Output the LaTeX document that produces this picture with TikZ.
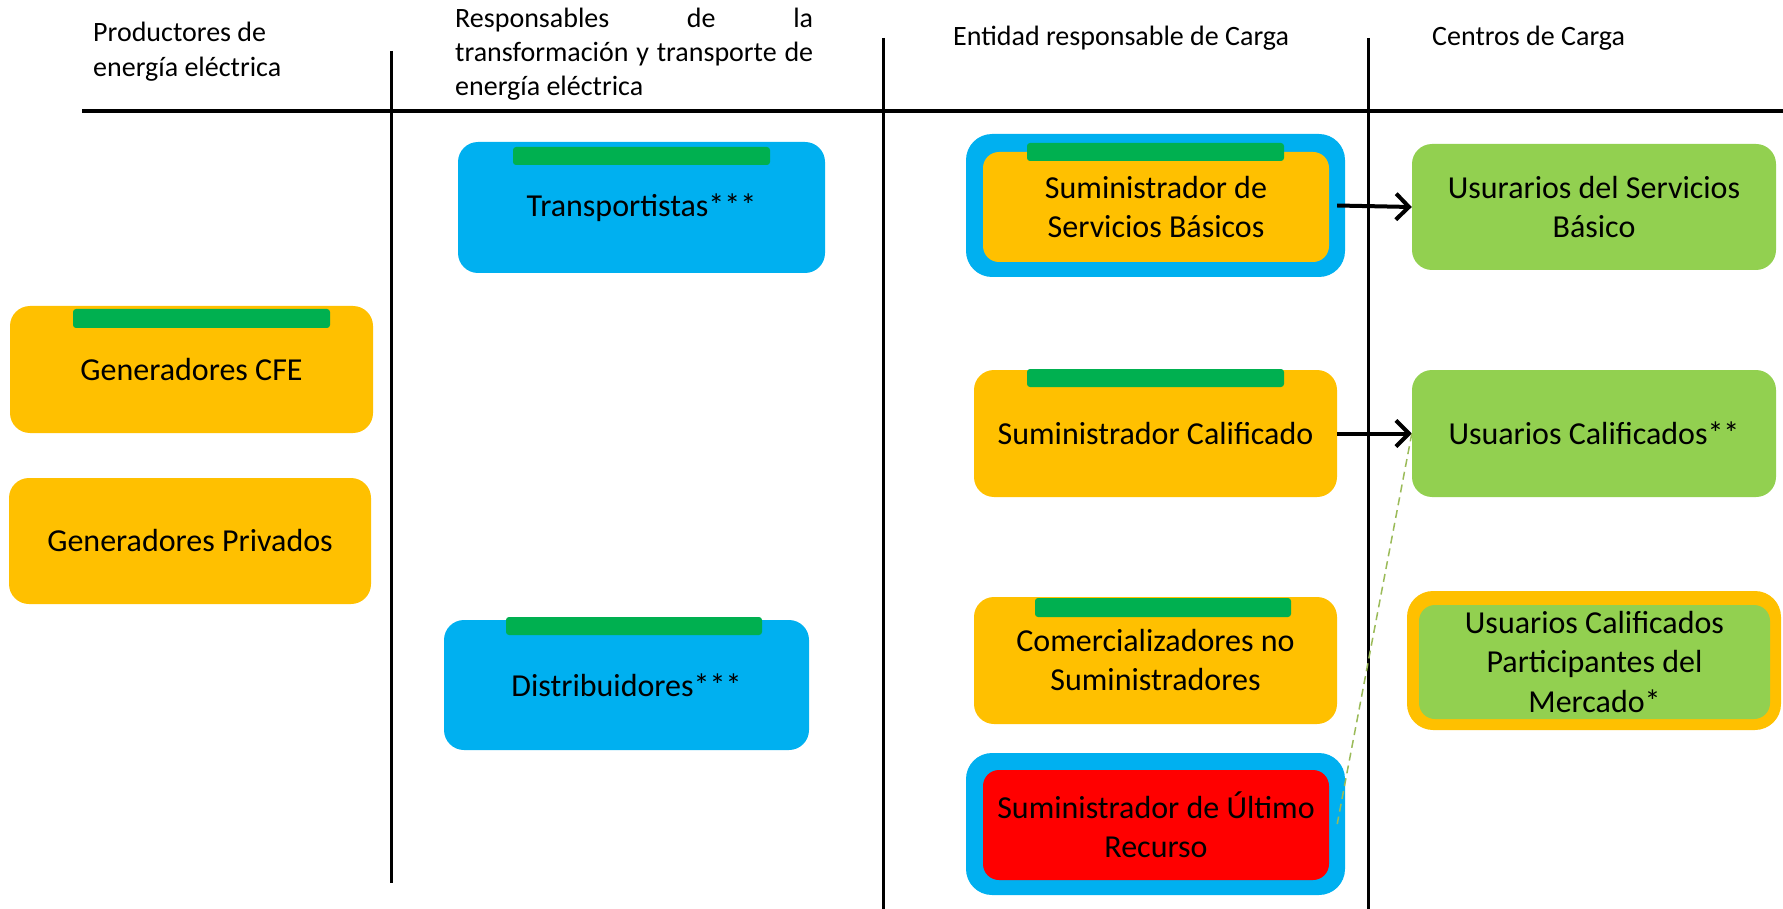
\documentclass[tikz,border=0pt]{standalone}
\usepackage{fontspec}
\setmainfont{Carlito}
\usetikzlibrary{arrows.meta}
\definecolor{cOrange}{HTML}{FFC000}
\definecolor{cBlue}{HTML}{00B0F0}
\definecolor{cBar}{HTML}{00B050}
\definecolor{cLight}{HTML}{92D050}
\definecolor{cRed}{HTML}{FF0000}
\definecolor{cDash}{HTML}{9BBB59}
\begin{document}
\begin{tikzpicture}[x=1pt,y=-1pt,
  gbox/.style={rounded corners=20pt, inner sep=0pt, align=center, font=\fontsize{32}{39}\selectfont, text=black},
  bar/.style={fill=cBar, rounded corners=3pt},
  hdr/.style={inner sep=0pt, align=left, anchor=west, font=\fontsize{28}{35}\selectfont},
  rulel/.style={line width=3.5pt, black},
  conn/.style={line width=4pt, -{Straight Barb[length=13pt,width=26pt,line width=4pt]}},
  dashconn/.style={cDash, line width=1.5pt, dash pattern=on 8pt off 5pt}]
\useasboundingbox (0,0) rectangle (1783,909);

% headers
\node[hdr] (h1) at (93,51.5) {Productores de\\energía eléctrica};
\node[hdr, font=\fontsize{28}{34}\selectfont] (h2) at (455,54) {\makebox[358pt][s]{Responsables de la}\\\makebox[358pt][s]{transformación y transporte de}\\energía eléctrica};
\node[hdr] (h3) at (953,38) {Entidad responsable de Carga};
\node[hdr] (h4) at (1432,38) {Centros de Carga};

% rules
\draw[rulel] (82,111) -- (1783,111);
\draw[line width=3pt] (391,51) -- (391,883);
\draw[line width=3pt] (883,38) -- (883,909);
\draw[line width=3pt] (1368,38) -- (1368,909);

% column 1
\node[gbox, fill=cOrange, minimum width=363pt, minimum height=127pt] (gcfe) at (191.5,369.5) {Generadores CFE};
\node[gbox, fill=cOrange, minimum width=362pt, minimum height=126pt] (gpriv) at (190,541) {Generadores Privados};

% column 2
\node[gbox, fill=cBlue, minimum width=367pt, minimum height=131pt] (trans) at (641.5,207.5) {Transportistas***};
\node[gbox, fill=cBlue, minimum width=365pt, minimum height=130pt] (dist) at (626.5,685) {Distribuidores***};

% column 3
\node[gbox, fill=cBlue, minimum width=379pt, minimum height=143pt, rounded corners=26pt] (ssb) at (1155.5,205.5) {};
\node[gbox, fill=cOrange, minimum width=346pt, minimum height=110pt, rounded corners=16pt] (ssbi) at (1156,207) {Suministrador de\\Servicios Básicos};
\node[gbox, fill=cOrange, minimum width=363pt, minimum height=127pt] (scal) at (1155.5,433.5) {Suministrador Calificado};
\node[gbox, fill=cOrange, minimum width=363pt, minimum height=127pt] (com) at (1155.5,660.5) {Comercializadores no\\Suministradores};
\node[gbox, fill=cBlue, minimum width=379pt, minimum height=142pt, rounded corners=26pt] (sur) at (1155.5,824) {};
\node[gbox, fill=cRed, minimum width=346pt, minimum height=110pt, rounded corners=16pt] (suri) at (1156,825) {Suministrador de Último\\Recurso};

% column 4
\node[gbox, fill=cLight, minimum width=364pt, minimum height=126pt] (usb) at (1594,207) {Usurarios del Servicios\\Básico};
\node[gbox, fill=cLight, minimum width=364pt, minimum height=127pt] (ucal) at (1594,433.5) {Usuarios Calificados**};
\node[gbox, fill=cOrange, minimum width=374pt, minimum height=139pt, rounded corners=26pt] (ucpm) at (1594,660.5) {};
\node[gbox, fill=cLight, minimum width=351pt, minimum height=114pt, rounded corners=16pt, font=\fontsize{32}{39.5}\selectfont] (ucpmi) at (1594.5,662) {Usuarios Calificados\\Participantes del\\Mercado*};

% green bars
\fill[bar] (513,147) rectangle (770,165);
\fill[bar] (73,309) rectangle (330,328);
\fill[bar] (506,617) rectangle (762,635);
\fill[bar] (1027,143) rectangle (1284,161);
\fill[bar] (1027,369) rectangle (1284,387);
\fill[bar] (1035,598) rectangle (1291,617);

% connectors
\draw[conn] ([xshift=-8pt]ssb.east) -- (usb.west);
\draw[conn] (scal.east) -- (ucal.west);
\draw[dashconn] (ucal.west) -- ([xshift=-8pt]sur.east);
\end{tikzpicture}
\end{document}
